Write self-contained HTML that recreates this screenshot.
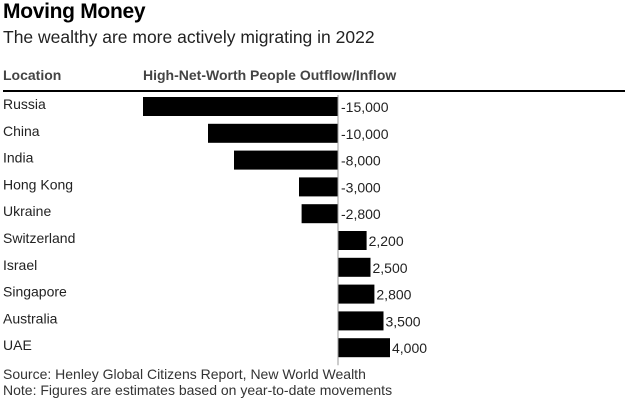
<!DOCTYPE html>
<html><head><meta charset="utf-8"><style>
body{margin:0;background:#fff;font-family:"Liberation Sans",Arial,sans-serif;}
#wrap{position:relative;width:628px;height:412px;overflow:hidden;}
.t{position:absolute;white-space:nowrap;color:#222;}
</style></head><body>
<div id="wrap">
<div class="t" style="left:3px;top:0px;font-size:21px;font-weight:bold;color:#000;letter-spacing:-0.3px">Moving Money</div>
<div class="t" style="left:3px;top:27px;font-size:17.5px;color:#222">The wealthy are more actively migrating in 2022</div>
<div class="t" style="left:3px;top:67px;font-size:14px;font-weight:bold;color:#444">Location</div>
<div class="t" style="left:143px;top:67px;font-size:14px;font-weight:bold;color:#444">High-Net-Worth People Outflow/Inflow</div>
<div style="position:absolute;left:3px;top:90px;width:622px;height:2px;background:#000"></div>
<svg id="svg" width="628" height="412" style="position:absolute;left:0;top:0"></svg>
<div class="t" style="left:3px;top:366px;font-size:14px;color:#333">Source: Henley Global Citizens Report, New World Wealth</div>
<div class="t" style="left:3px;top:382px;font-size:14px;color:#333">Note: Figures are estimates based on year-to-date movements</div>
</div>
<script>
const categories=["Russia","China","India","Hong Kong","Ukraine","Switzerland","Israel","Singapore","Australia","UAE"];
const values=[-15000,-10000,-8000,-3000,-2800,2200,2500,2800,3500,4000];
const labels=["-15,000","-10,000","-8,000","-3,000","-2,800","2,200","2,500","2,800","3,500","4,000"];
const NS="http://www.w3.org/2000/svg";
const svg=document.getElementById('svg');
const x0=338, k=13/1000, top0=97, step=26.8, bh=19;
const x=v=>x0+v*k;
const y=i=>top0+i*step;
function mk(t,a){const e=document.createElementNS(NS,t);for(const n in a)e.setAttribute(n,a[n]);svg.appendChild(e);return e;}
categories.forEach((c,i)=>{
  const v=values[i];
  const lab=mk('text',{x:3,y:y(i)+12,'font-size':14,fill:'#222','font-family':'Liberation Sans, sans-serif'});
  lab.textContent=c;
  
  
  const r=mk('rect',{x:Math.min(x(v),x0),y:y(i),width:Math.abs(x(v)-x0),height:bh,fill:'#000'});
  
  
  const vx=v<0?x0+3:x(v)+2;
  const t=mk('text',{x:vx,y:y(i)+15,'font-size':14,fill:'#222','font-family':'Liberation Sans, sans-serif'});
  t.textContent=labels[i];
  
  
});
const zl=mk('line',{x1:x0,x2:x0,y1:top0-2,y2:y(categories.length-1)+bh+8,stroke:'#999','stroke-width':1});


</script>
</body></html>
